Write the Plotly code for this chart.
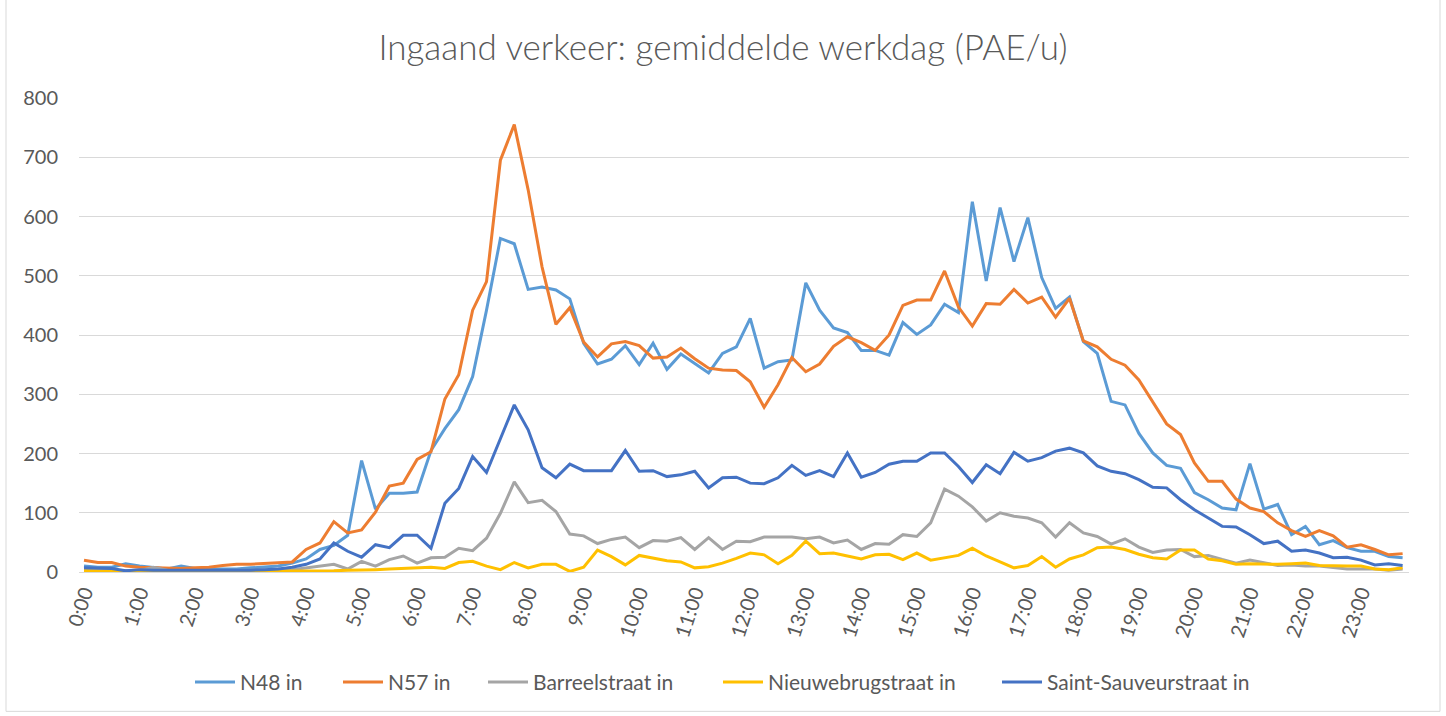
import plotly.graph_objects as go

# Categories: quarter-hours of the day
times = [f"{h}:{m:02d}" for h in range(24) for m in (0, 15, 30, 45)]
hour_ticks = [f"{h}:00" for h in range(24)]

n48_in = [10, 8, 8, 14, 10, 8, 5, 10, 6, 5, 5, 5, 7, 8, 10, 15,
          22, 38, 45, 62, 188, 106, 133, 133,
          135, 205, 242, 274, 330, 442, 563, 554, 477, 481, 476, 461, 386, 351,
          359, 382, 350, 386, 342, 368, 352, 336, 369, 380, 428, 344, 355, 358,
          488, 442, 412, 404, 374, 374, 366, 421, 401, 417, 452, 438,
          625, 491, 615, 524, 598, 497, 445, 464, 389, 369, 288, 282, 234, 201, 180,
          175, 134, 122, 108, 105, 183, 106, 114, 63, 77, 46, 53, 41, 35, 35, 26, 24]

n57_in = [20, 16, 16, 10, 8, 7, 7, 6, 7, 8, 11, 13, 13, 14, 15, 17,
          38, 49, 85, 66, 71, 101, 145, 150,
          190, 203, 292, 333, 442, 490, 695, 755, 645, 515, 418, 446, 388, 363,
          385, 389, 382, 361, 363, 378, 360, 344, 341, 340, 321, 278, 316, 362,
          338, 351, 381, 397, 387, 374, 400, 450, 459, 459, 508, 447,
          415, 453, 452, 477, 454, 464, 430, 462, 390, 380, 359, 349, 324, 288, 250,
          232, 184, 153, 153, 123, 108, 102, 83, 70, 60, 70, 61, 42, 46, 38, 29, 31]

barreelstraat_in = [3, 3, 3, 2, 2, 8, 3, 2, 2, 2, 2, 2, 2, 2, 3, 4,
                    7, 10, 13, 5, 18, 10, 21, 27,
                    15, 24, 25, 40, 36, 57, 99, 152, 117, 121, 102, 64, 61, 48,
                    55, 59, 41, 53, 52, 58, 38, 58, 38, 52, 51, 59, 59, 59,
                    56, 59, 49, 54, 38, 48, 47, 63, 60, 83, 140, 128,
                    110, 86, 100, 94, 91, 83, 59, 83, 66, 60, 47, 56, 42, 33, 37,
                    38, 26, 28, 21, 15, 20, 15, 11, 12, 10, 10, 7, 5, 5, 5, 3, 5]

nieuwebrugstraat_in = [2, 1, 1, 1, 1, 1, 1, 1, 1, 1, 1, 1, 1, 1, 1, 1,
                       2, 2, 2, 3, 3, 4, 5, 6,
                       8, 8, 6, 16, 18, 10, 4, 16, 7, 13, 13, 1, 8, 37,
                       26, 12, 28, 23, 19, 17, 7, 9, 15, 23, 32, 29, 14, 28,
                       52, 31, 32, 27, 22, 29, 30, 21, 32, 20, 24, 28,
                       40, 27, 17, 7, 11, 26, 8, 22, 29, 41, 42, 38, 30, 24, 22,
                       37, 37, 22, 19, 13, 14, 13, 13, 14, 15, 11, 10, 10, 10, 5, 4, 7]

saint_sauveurstraat_in = [7, 6, 6, 2, 4, 3, 3, 3, 2, 2, 3, 3, 3, 4, 5, 8,
                          13, 22, 49, 35, 25, 46, 41, 62,
                          62, 40, 116, 141, 195, 168, 226, 282, 240, 176, 159, 182, 171, 171,
                          171, 205, 170, 171, 161, 164, 170, 142, 159, 160, 150, 149, 159, 180,
                          163, 171, 161, 201, 160, 168, 182, 187, 187, 201, 201, 178,
                          151, 181, 166, 202, 187, 193, 204, 209, 201, 179, 170, 166, 156, 143, 142,
                          122, 105, 91, 77, 76, 63, 48, 52, 35, 37, 32, 24, 25, 20, 12, 14, 11]

series = [
    ("N48 in", n48_in, "#5B9BD5"),
    ("N57 in", n57_in, "#ED7D31"),
    ("Barreelstraat in", barreelstraat_in, "#A5A5A5"),
    ("Nieuwebrugstraat in", nieuwebrugstraat_in, "#FFC000"),
    ("Saint-Sauveurstraat in", saint_sauveurstraat_in, "#4472C4"),
]
# pixel x where each legend entry starts in the reference
legend_x = [190, 338, 483, 718, 997]

FONT = "Lato"
TXT = "#595959"

W, H = 1446, 716
L, R, T, B = 79, 37, 98, 143.5
pw, ph = W - L - R, H - T - B

def px(x):
    return (x - L) / pw

def py(y):
    return (H - B - y) / ph

fig = go.Figure()
legends = {}
for k, ((name, vals, col), lx) in enumerate(zip(series, legend_x)):
    lname = "legend" if k == 0 else f"legend{k + 1}"
    fig.add_trace(go.Scatter(x=times, y=vals, name=name, mode="lines",
                             line=dict(color=col, width=3), legend=lname))
    legends[lname] = dict(orientation="h", x=px(lx), xanchor="left",
                          y=py(683), yanchor="middle",
                          font=dict(family=FONT, size=21, color=TXT),
                          itemwidth=40, bgcolor="rgba(0,0,0,0)",
                          borderwidth=0)

fig.update_layout(
    width=W, height=H,
    margin=dict(l=L, r=R, t=T, b=B, autoexpand=False),
    paper_bgcolor="white", plot_bgcolor="white",
    font=dict(family=FONT, color=TXT, size=20),
    title=dict(text="Ingaand verkeer: gemiddelde werkdag (PAE/u)",
               x=0.5, xref="container", xanchor="center",
               y=1 - 48 / H, yanchor="middle",
               font=dict(family=FONT, size=35, color=TXT, weight=300)),
    showlegend=True,
    xaxis=dict(type="category", categoryorder="array", categoryarray=times,
               range=[-0.36, 95.46], tickmode="array", tickvals=hour_ticks,
               ticktext=hour_ticks, tickangle=-72, showgrid=False,
               showline=True, linecolor="#D9D9D9", linewidth=1,
               ticks="", tickfont=dict(size=20, color=TXT), zeroline=False),
    yaxis=dict(range=[0, 800], dtick=100, showgrid=True, gridcolor="#D9D9D9",
               gridwidth=1, zeroline=False, showline=False, ticks="",
               ticklabelstandoff=20, tickfont=dict(size=20, color=TXT)),
    shapes=[dict(type="rect", xref="paper", yref="paper",
                 x0=px(6), x1=px(1440), y0=py(712), y1=py(-2),
                 line=dict(color="#D9D9D9", width=1), fillcolor="rgba(0,0,0,0)",
                 layer="below")],
    **legends,
)

fig.write_html("out.html", config={"displayModeBar": False},
               post_script="document.body.style.margin='0';")
